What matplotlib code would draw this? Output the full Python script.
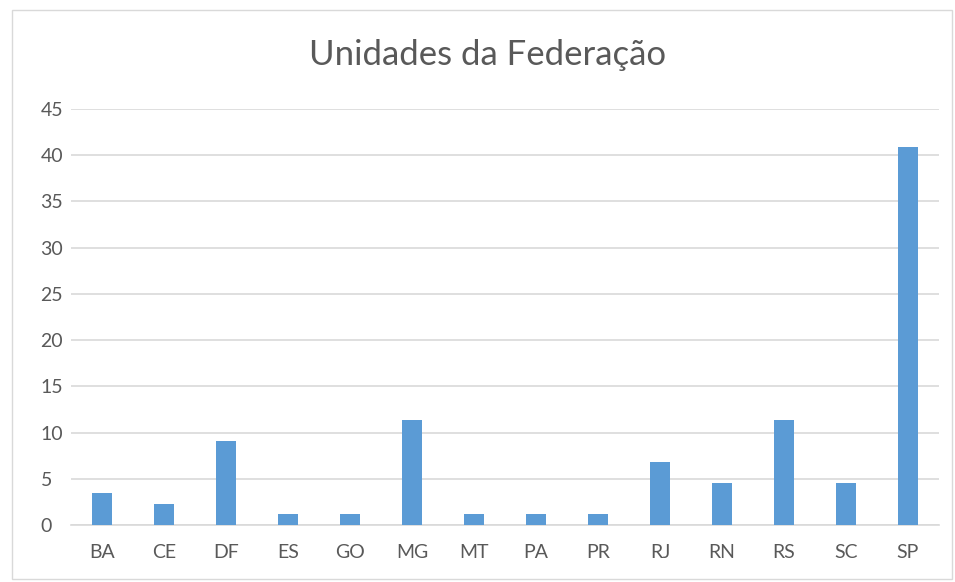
import matplotlib.pyplot as plt
from matplotlib.patches import Rectangle

# share of records per state (%), 88 records in total
states = ['BA', 'CE', 'DF', 'ES', 'GO', 'MG', 'MT', 'PA', 'PR', 'RJ', 'RN', 'RS', 'SC', 'SP']
counts = [3, 2, 8, 1, 1, 10, 1, 1, 1, 6, 4, 10, 4, 36]
total = sum(counts)
percent = [100 * c / total for c in counts]

yticks = list(range(0, 50, 5))

plt.rcParams['font.family'] = ['Lato', 'DejaVu Sans']
text_color = '#595959'

fig = plt.figure(figsize=(9.55, 5.82), dpi=100)
# outer chart frame
fig.patches.append(Rectangle((12 / 955, 0.005), 940 / 955, 1 - 10 / 582 - 0.005,
                             transform=fig.transFigure, fill=False,
                             edgecolor='#d9d9d9', linewidth=1))

ax = fig.add_axes([71 / 955, 1 - 525 / 582, 868 / 955, 416 / 582])
x = range(len(states))
ax.bar(x, percent, width=0.32, color='#5b9bd5', zorder=3)

ax.set_xlim(-0.5, len(states) - 0.5)
ax.set_ylim(0, 45)
ax.set_yticks(yticks)
ax.set_xticks(list(x))
ax.set_xticklabels(states)
ax.grid(axis='y', color='#d9d9d9', linewidth=1.2, zorder=0)
ax.tick_params(axis='both', length=0, labelsize=14, colors=text_color)
ax.tick_params(axis='x', pad=14)
ax.tick_params(axis='y', pad=22)
for lbl in ax.get_yticklabels():
    lbl.set_horizontalalignment('left')
for side in ['top', 'right', 'left']:
    ax.spines[side].set_visible(False)
ax.spines['bottom'].set_color('#d9d9d9')
ax.spines['bottom'].set_linewidth(1.2)

fig.text(488 / 955, 1 - 55 / 582, 'Unidades da Federação', ha='center', va='center',
         fontsize=25, color=text_color)

fig.savefig('out.png', dpi=100)
